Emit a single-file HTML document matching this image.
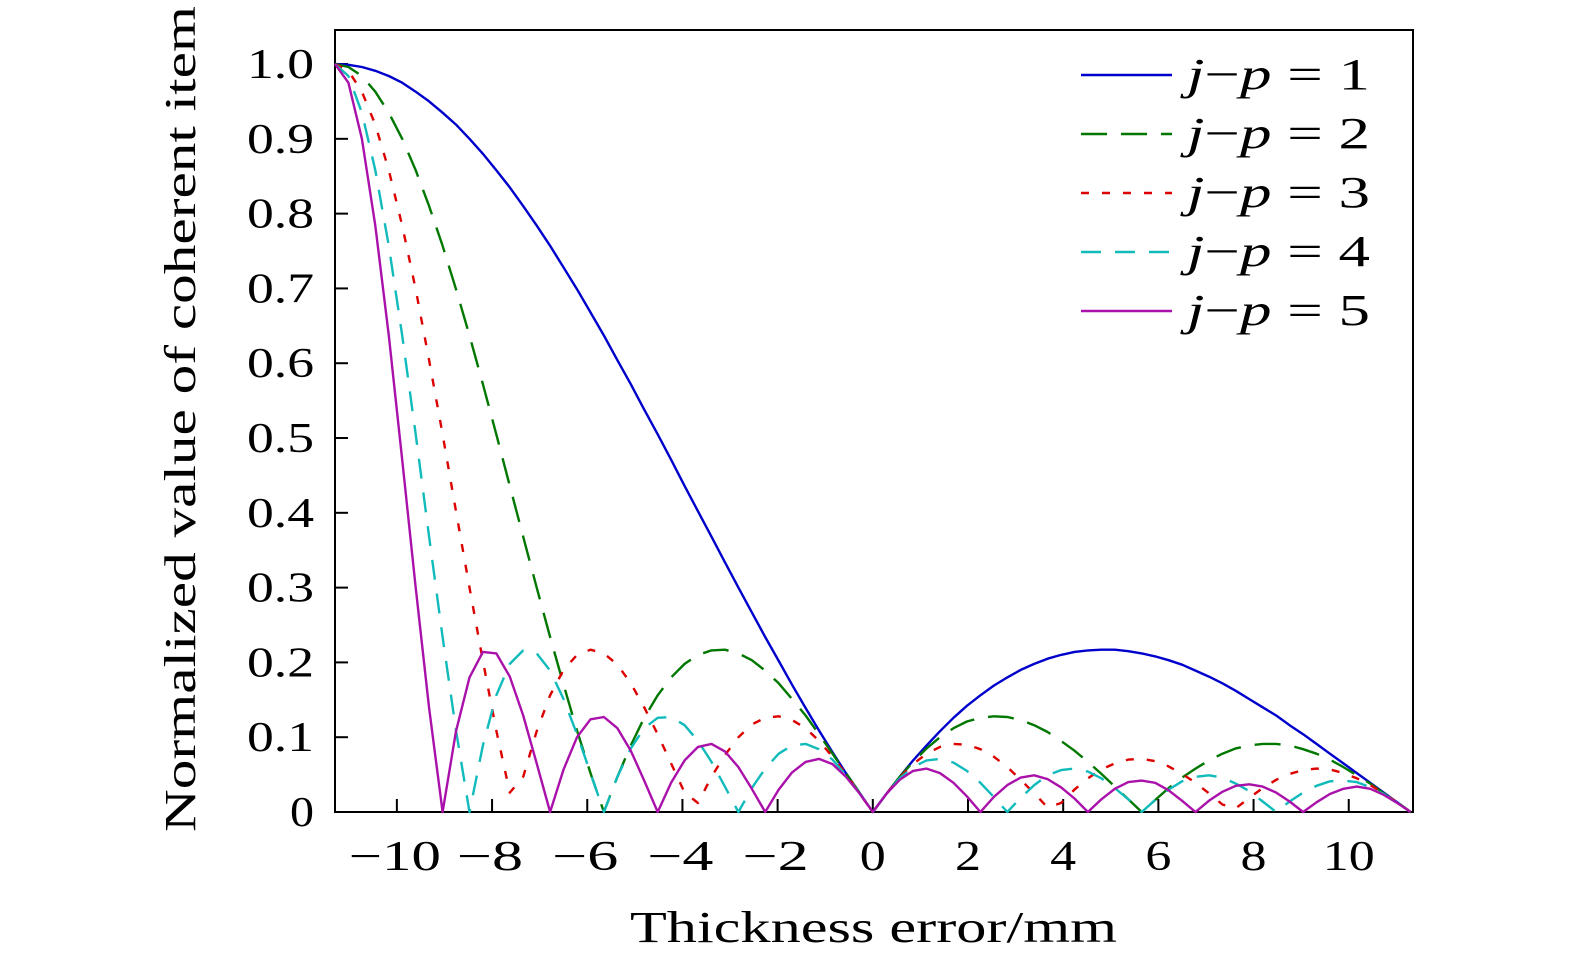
<!DOCTYPE html>
<html><head><meta charset="utf-8"><style>
html,body{margin:0;padding:0;background:#fff;}
svg{display:block;}
text{font-family:"Liberation Serif",serif;fill:#000;}
</style></head><body>
<svg id="chart" width="1575" height="965" viewBox="0 0 1575 965" xmlns="http://www.w3.org/2000/svg">
<rect x="335" y="30" width="1078" height="782" fill="none" stroke="#000" stroke-width="2"/>
<g id="ticks"></g>
<g id="series"></g>
<text x="630" y="942" font-size="44" textLength="487" lengthAdjust="spacingAndGlyphs">Thickness error/mm</text>
<text transform="translate(195,832) rotate(-90)" font-size="44" textLength="826" lengthAdjust="spacingAndGlyphs">Normalized value of coherent item</text>
<g id="legend"></g>
</svg>
<script>
const xTicks=[-10,-8,-6,-4,-2,0,2,4,6,8,10];
const xTickLabels=["−10","−8","−6","−4","−2","0","2","4","6","8","10"];
const yTicks=[0,0.1,0.2,0.3,0.4,0.5,0.6,0.7,0.8,0.9,1.0];
const yTickLabels=["0","0.1","0.2","0.3","0.4","0.5","0.6","0.7","0.8","0.9","1.0"];
const xStart=-11.3, xStep=0.2825;
const s1=[1,.999,.996,.991,.984,.975,.963,.950,.935,.919,.900,.880,.858,.835,.810,.784,.757,.728,.699,.668,.637,.604,.572,.538,.505,.471,.436,.402,.368,.334,.300,.267,.234,.202,.170,.139,.109,.080,.052,.026,0,.024,.047,.069,.089,.108,.126,.142,.156,.169,.180,.190,.198,.205,.210,.214,.216,.217,.217,.215,.212,.208,.203,.197,.189,.181,.172,.162,.151,.140,.129,.116,.104,.091,.078,.065,.052,.039,.026,.013,0];
const s2=[1,.996,.984,.963,.935,.900,.858,.810,.757,.699,.637,.572,.505,.436,.368,.300,.234,.170,.109,.052,0,.047,.089,.126,.156,.180,.198,.210,.216,.217,.212,.203,.189,.172,.151,.129,.104,.078,.052,.026,0,.024,.047,.067,.085,.100,.112,.121,.126,.128,.127,.123,.116,.107,.095,.082,.067,.051,.034,.017,0,.016,.032,.046,.058,.069,.078,.085,.089,.091,.091,.089,.084,.078,.070,.060,.049,.038,.025,.013,0];
const s3=[1,.991,.963,.919,.858,.784,.699,.604,.505,.402,.300,.202,.109,.026,.047,.108,.156,.190,.210,.217,.212,.197,.172,.140,.104,.065,.026,.012,.047,.076,.100,.117,.126,.128,.123,.112,.095,.074,.051,.025,0,.024,.046,.064,.078,.087,.091,.090,.084,.074,.060,.043,.025,.006,.012,.030,.045,.057,.065,.070,.071,.068,.061,.051,.039,.025,.010,.005,.019,.032,.043,.051,.056,.058,.057,.052,.045,.036,.025,.013,0];
const s4=[1,.984,.935,.858,.757,.637,.505,.368,.234,.109,0,.089,.156,.198,.216,.212,.189,.151,.104,.052,0,.047,.085,.112,.126,.127,.116,.095,.067,.034,0,.032,.058,.078,.089,.091,.084,.070,.049,.025,0,.024,.045,.060,.069,.071,.066,.055,.039,.020,0,.019,.036,.049,.056,.058,.054,.045,.032,.017,0,.016,.030,.041,.047,.049,.046,.038,.028,.014,0,.014,.026,.035,.041,.042,.040,.033,.024,.012,0];
const s5=[1,.975,.900,.784,.637,.471,.300,.139,0,.108,.180,.214,.212,.181,.129,.065,0,.057,.100,.124,.127,.112,.082,.042,0,.039,.069,.087,.091,.081,.060,.031,0,.030,.053,.067,.071,.064,.047,.025,0,.024,.043,.055,.058,.052,.039,.021,0,.020,.036,.046,.049,.044,.033,.018,0,.017,.031,.040,.042,.039,.029,.015,0,.015,.027,.035,.037,.034,.026,.014,0,.013,.024,.031,.034,.031,.023,.012,0];
const seriesNames=["1","2","3","4","5"];

const NS="http://www.w3.org/2000/svg";
const X0=335,X1=1413,Y0=812,Y1=30;
const xMin=-11.3,xMax=11.35,yMin=0,yMax=1.0455;
function sx(v){return X0+(v-xMin)/(xMax-xMin)*(X1-X0);}
function sy(v){return Y0-(v-yMin)/(yMax-yMin)*(Y0-Y1);}
function mk(tag,attrs,parent){const e=document.createElementNS(NS,tag);for(const k in attrs)e.setAttribute(k,attrs[k]);parent.appendChild(e);return e;}

const tg=document.getElementById('ticks');
xTicks.forEach((t,i)=>{
  const l=mk('line',{x1:sx(t),x2:sx(t),y1:Y0,y2:Y0-13,stroke:'#000','stroke-width':2},tg);
  
  
  const lab=xTickLabels[i];
  const neg=lab.startsWith('−');
  const digits=neg?lab.length-1:lab.length;
  const w=digits*26+(neg?40:0);
  const tx=mk('text',{x:sx(t)-w/2+(neg?-2:0),y:870,'font-size':42,textLength:w,lengthAdjust:'spacingAndGlyphs'},tg);
  tx.textContent=lab;
  
  
});
yTicks.forEach((t,i)=>{
  const lab=yTickLabels[i];
  const w=lab.length===1?24:67;
  const tx=mk('text',{x:314-w,y:sy(t)+14,'font-size':42,textLength:w,lengthAdjust:'spacingAndGlyphs'},tg);
  tx.textContent=lab;
  
  
  const l=mk('line',{x1:X0,x2:X0+13,y1:sy(t),y2:sy(t),stroke:'#000','stroke-width':2},tg);
  
  
});

const styles=[
  {c:'#0000cc',d:''},
  {c:'#007700',d:'26 14'},
  {c:'#dd0000',d:'8 13'},
  {c:'#11bbbb',d:'20 14'},
  {c:'#aa11aa',d:''}
];
const all=[s1,s2,s3,s4,s5];
const sg=document.getElementById('series');
const lg=document.getElementById('legend');
all.forEach((arr,si)=>{
  let d='';
  arr.forEach((v,k)=>{const x=xStart+k*xStep;d+=(k?'L':'M')+sx(x).toFixed(1)+','+sy(v).toFixed(1);});
  const p=mk('path',{d:d,fill:'none',stroke:styles[si].c,'stroke-width':2.4,'stroke-dasharray':styles[si].d,'stroke-linejoin':'round'},sg);
  
  
  const ly=75+si*59;
  const ll=mk('line',{x1:1081,x2:1172,y1:ly,y2:ly,stroke:styles[si].c,'stroke-width':2.4,'stroke-dasharray':styles[si].d},lg);
  
  
  const t=mk('text',{x:1187,y:ly+14,'font-size':44,textLength:183,lengthAdjust:'spacingAndGlyphs'},lg);
  
  
  const a=mk('tspan',{'font-style':'italic'},t);a.textContent='j';
  const b=mk('tspan',{},t);b.textContent='−';
  const c=mk('tspan',{'font-style':'italic'},t);c.textContent='p';
  const e=mk('tspan',{},t);e.textContent=' = '+seriesNames[si];
});
</script>
</body></html>
